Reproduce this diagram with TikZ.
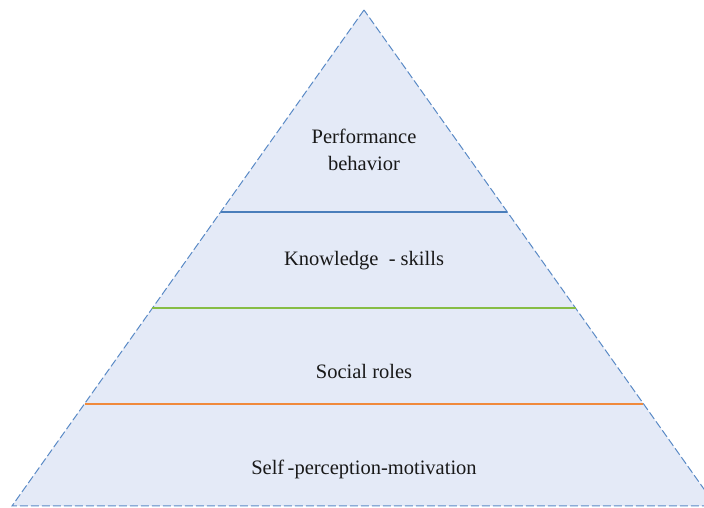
\documentclass[tikz,border=0pt]{standalone}
\usepackage{fontspec}
\setmainfont{Liberation Serif}
\usetikzlibrary{calc}

\definecolor{pyrfill}{HTML}{E4EAF7}
\definecolor{pyredge}{HTML}{5A8AC6}
\definecolor{layerblue}{HTML}{4A7EBB}
\definecolor{layergreen}{HTML}{86BD45}
\definecolor{layerorange}{HTML}{F08A3C}

\tikzset{
    layertext/.style={font=\fontsize{20.5}{27}\selectfont, align=center, text=black!90},
    bar/.style={line width=1.4pt}
}

\begin{document}
\begin{tikzpicture}[x=1pt, y=1pt]
        \useasboundingbox (0, 0) rectangle (704, 508);
        \clip (0, 0) rectangle (704, 508);
        % corners of the pyramid
        \coordinate (top) at (364, 498);
        \coordinate (left) at (12, 2);
        \coordinate (right) at (716, 2);
        \draw [fill=pyrfill, draw=pyredge, line width=1pt, dash pattern=on 8pt off 3pt] (top) -- (left) -- (right) -- cycle;
        % dividing bars
        \coordinate (b1l) at ($(top)!0.407!(left)$);
        \coordinate (b1r) at ($(top)!0.407!(right)$);
        \coordinate (b2l) at ($(top)!0.601!(left)$);
        \coordinate (b2r) at ($(top)!0.601!(right)$);
        \coordinate (b3l) at ($(top)!0.794!(left)$);
        \coordinate (b3r) at ($(top)!0.794!(right)$);
        \draw [bar, draw=layerblue] (b1l) -- (b1r);
        \draw [bar, draw=layergreen] (b2l) -- (b2r);
        \draw [bar, draw=layerorange] (b3l) -- (b3r);
        % layer names
        \node (perf) at (364, 358) [layertext] {Performance\\behavior};
        \node (know) at (364, 247) [layertext] {Knowledge\ \ - skills};
        \node (social) at (364, 137) [layertext] {Social roles};
        \node (self) at (364, 39) [layertext] {Self\,-perception-motivation};
    \end{tikzpicture}
\end{document}
